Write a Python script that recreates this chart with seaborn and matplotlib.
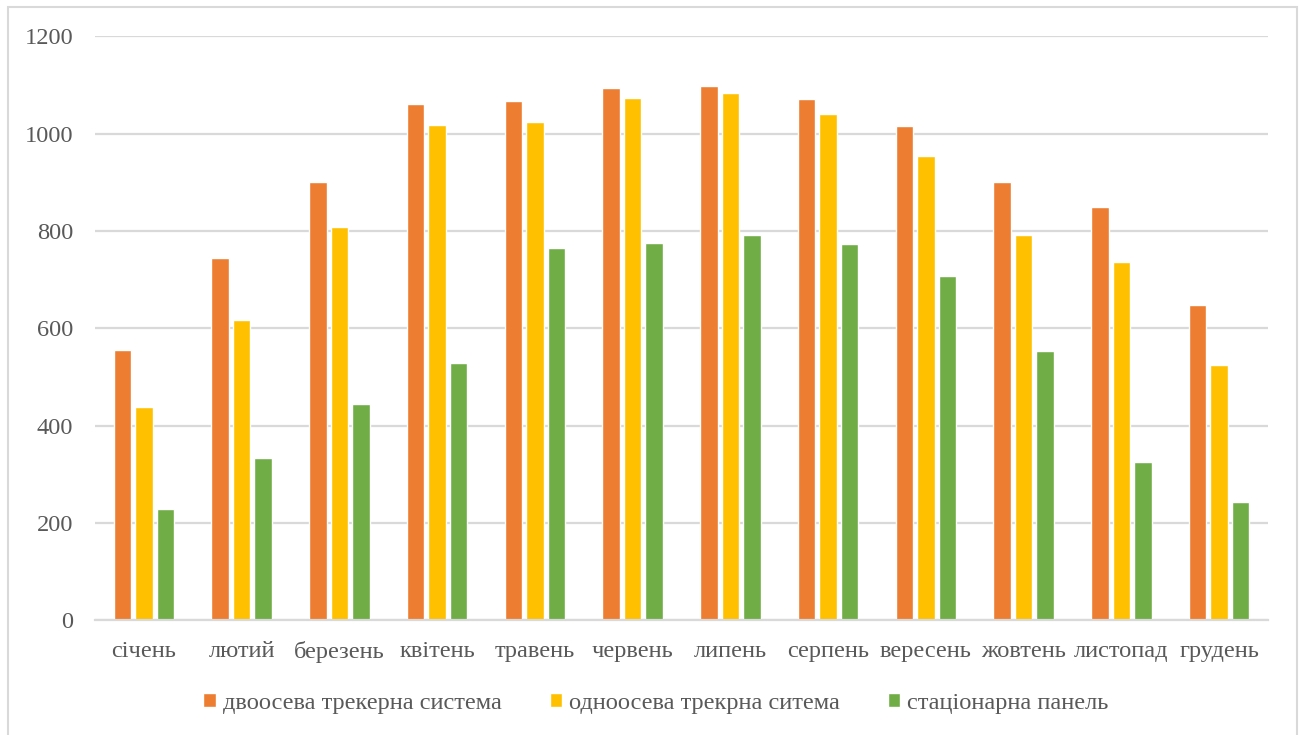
import matplotlib
matplotlib.use("Agg")
import matplotlib.pyplot as plt
from matplotlib.patches import Rectangle
import seaborn as sns
import pandas as pd

months = ["січень", "лютий", "березень", "квітень", "травень", "червень",
          "липень", "серпень", "вересень", "жовтень", "листопад", "грудень"]
series_names = ["двоосева трекерна система", "одноосева трекрна ситема", "стаціонарна панель"]
dual_axis = [555, 744, 900, 1060, 1067, 1094, 1097, 1071, 1016, 900, 849, 648]
single_axis = [438, 618, 809, 1017, 1024, 1073, 1083, 1040, 954, 791, 736, 524]
fixed_panel = [228, 333, 444, 528, 764, 776, 791, 774, 707, 553, 325, 243]
y_ticks = [0, 200, 400, 600, 800, 1000, 1200]
colors = ["#ED7D31", "#FFC000", "#70AD47"]

df = pd.DataFrame({
    "month": months * 3,
    "series": [series_names[0]] * 12 + [series_names[1]] * 12 + [series_names[2]] * 12,
    "value": dual_axis + single_axis + fixed_panel,
})

sns.set_theme(style="white")
plt.rcParams["font.family"] = ["Liberation Serif", "DejaVu Serif"]
text_color = "#595959"
grid_color = "#d9d9d9"
font_size = 17.6

fig = plt.figure(figsize=(13, 7.35), dpi=100)
ax = fig.add_axes([95 / 1300, 114.7 / 735, (1268 - 95) / 1300, (620.3 - 36.3) / 735])

sns.barplot(data=df, x="month", y="value", hue="series", order=months,
            hue_order=series_names, palette=colors, width=0.66, gap=0.19,
            saturation=1, ax=ax, legend=True)

ax.set_ylim(0, 1200)
ax.set_xlim(-0.5, 11.5)
ax.set_yticks(y_ticks)
ax.set_yticklabels([str(t) for t in y_ticks])
ax.yaxis.grid(True, color=grid_color, linewidth=1.6)
ax.set_axisbelow(True)
for side in ["top", "right", "left"]:
    ax.spines[side].set_visible(False)
ax.spines["bottom"].set_color(grid_color)
ax.spines["bottom"].set_linewidth(1.6)
ax.tick_params(axis="both", length=0, colors=text_color, labelsize=font_size)
ax.tick_params(axis="y", pad=15.5)
ax.tick_params(axis="x", pad=15)
ax.set_xlabel("")
ax.set_ylabel("")

handles, labels = ax.get_legend_handles_labels()
ax.get_legend().remove()
fig.legend(handles, labels, loc="center", bbox_to_anchor=(656 / 1300, 1 - 703 / 735),
           ncol=3, frameon=False, fontsize=font_size, labelcolor=text_color,
           handlelength=0.5, handleheight=0.5, handletextpad=0.3, columnspacing=1.95)

# outer chart border
fig.patches.append(Rectangle((7.5 / 1300, -0.05), (1297 - 7.5) / 1300, 1.05 - 7.5 / 735,
                             transform=fig.transFigure, fill=False,
                             edgecolor=grid_color, linewidth=1.5))

fig.savefig("out.png", dpi=100)
